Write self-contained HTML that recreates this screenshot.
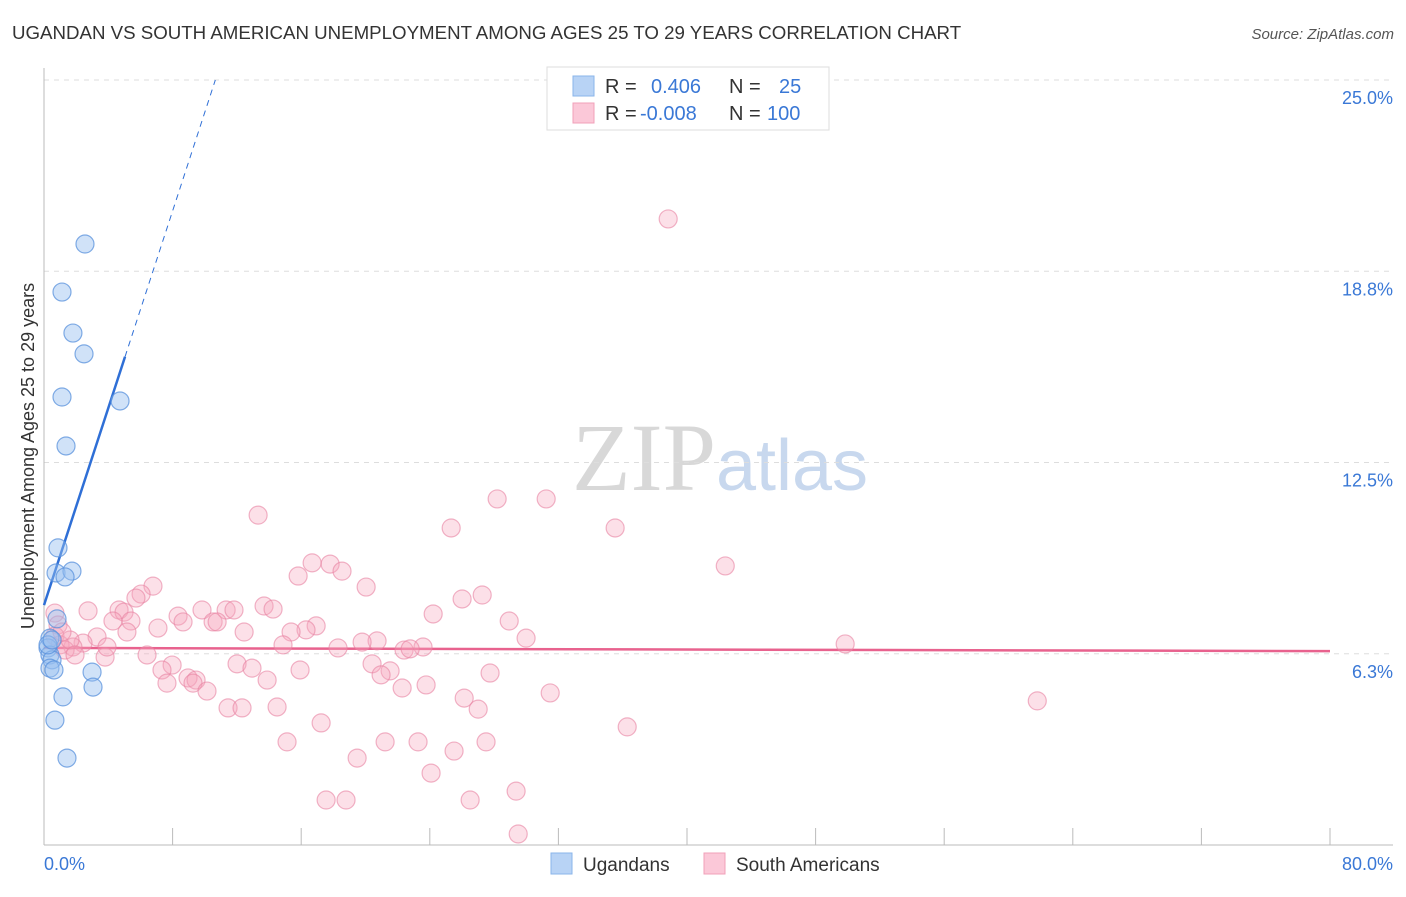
<!DOCTYPE html>
<html><head><meta charset="utf-8"><style>
body{margin:0;background:#fff;font-family:"Liberation Sans",sans-serif}
svg text{font-family:"Liberation Sans",sans-serif}
</style></head><body>
<svg id="chart" width="1406" height="892" viewBox="0 0 1406 892">
<text x="12" y="39" font-size="18.7" fill="#333">UGANDAN VS SOUTH AMERICAN UNEMPLOYMENT AMONG AGES 25 TO 29 YEARS CORRELATION CHART</text>
<text x="1394" y="39" font-size="15" fill="#555" text-anchor="end" font-style="italic">Source: ZipAtlas.com</text>
<text x="720" y="490" font-size="96" text-anchor="middle"><tspan fill="#d8d8d8" font-family="Liberation Serif">ZIP</tspan><tspan fill="#c8d8ee" font-size="72">atlas</tspan></text>
<g id="grid"></g>
<g id="axes"></g>
<g id="trends"></g>
<g id="pts"></g>
<text transform="translate(34,456) rotate(-90)" text-anchor="middle" font-size="18" fill="#333">Unemployment Among Ages 25 to 29 years</text>
<g>
<rect x="547" y="67" width="282" height="63" fill="#fff" stroke="#ddd"/>
<rect x="573" y="76" width="21" height="20" fill="#b8d3f5" stroke="#8ab4ea"/>
<rect x="573" y="103" width="21" height="20" fill="#fbc8d8" stroke="#f0a0b9"/>
<text x="605" y="93" font-size="20" fill="#333">R =</text>
<text x="651" y="93" font-size="20" fill="#3a78d6">0.406</text>
<text x="729" y="93" font-size="20" fill="#333">N =</text>
<text x="779" y="93" font-size="20" fill="#3a78d6">25</text>
<text x="605" y="120" font-size="20" fill="#333">R =</text>
<text x="640" y="120" font-size="20" fill="#3a78d6">-0.008</text>
<text x="729" y="120" font-size="20" fill="#333">N =</text>
<text x="767" y="120" font-size="20" fill="#3a78d6">100</text>
</g>
<g>
<rect x="551" y="853" width="21" height="21" fill="#b8d3f5" stroke="#8ab4ea"/>
<text x="583" y="871" font-size="19" fill="#333">Ugandans</text>
<rect x="704" y="853" width="21" height="21" fill="#fbc8d8" stroke="#f0a0b9"/>
<text x="736" y="871" font-size="19" fill="#333">South Americans</text>
</g>
</svg>
<script>
const yTicks=[25.0,18.8,12.5,6.3];
const yTickVals=[25,18.75,12.5,6.25];
const xTickLabels=["0.0%","80.0%"];
const blueX=[2.55,1.12,1.80,2.49,1.12,4.73,1.37,0.87,0.75,1.74,1.31,0.81,0.37,0.25,0.37,0.50,0.37,0.62,2.99,3.05,1.18,0.68,1.43,0.25,0.50];
const blueY=[19.64,18.07,16.73,16.05,14.64,14.51,13.04,9.71,8.89,8.95,8.76,7.39,6.76,6.44,6.21,6.05,5.78,5.72,5.65,5.16,4.84,4.08,2.84,6.54,6.70];
const pinkX=[38.83,28.19,31.24,13.32,25.33,35.53,42.38,16.68,17.80,18.54,15.81,6.78,20.04,6.04,5.72,4.67,2.74,4.98,13.69,11.33,11.82,9.83,14.25,24.21,26.01,27.26,28.94,8.34,8.65,5.41,10.52,10.77,4.29,7.09,5.16,12.45,16.93,16.30,15.37,29.99,20.72,19.79,49.84,22.40,23.58,22.78,14.87,18.29,3.30,6.41,3.80,2.43,1.80,3.92,7.97,12.01,12.94,15.93,20.41,21.53,7.34,20.97,23.77,22.28,27.75,8.96,9.46,13.88,7.65,9.27,10.14,31.49,26.14,27.01,61.79,11.45,12.32,14.50,17.24,36.28,15.12,21.22,23.27,27.50,25.51,19.48,24.08,29.37,17.55,18.79,26.51,29.50,0.68,0.87,0.68,1.00,1.31,1.62,1.93,1.12];
const pinkY=[20.46,11.31,11.31,10.78,10.36,10.36,9.12,9.22,9.18,8.95,8.79,8.46,8.43,8.20,8.07,7.68,7.65,7.61,7.81,7.68,7.68,7.68,7.71,7.55,8.04,8.17,7.32,7.48,7.29,7.32,7.29,7.29,7.32,7.09,6.96,6.96,7.16,7.03,6.96,6.76,6.67,6.63,6.57,6.37,6.47,6.41,6.54,6.44,6.80,6.21,6.14,6.60,6.47,6.47,5.88,5.92,5.78,5.72,5.92,5.69,5.72,5.56,5.23,5.13,5.62,5.46,5.39,5.39,5.29,5.29,5.03,4.97,4.80,4.44,4.71,4.48,4.48,4.51,3.99,3.86,3.37,3.37,3.37,3.37,3.07,2.84,2.35,1.76,1.47,1.47,1.47,0.36,7.58,7.19,6.83,6.54,6.37,6.70,6.21,6.96];
const blueTrend=[7.84,1.61]; // intercept, slope
const pinkTrend=[6.44,-0.0013];
const NS="http://www.w3.org/2000/svg";
const X=v=>44+v*(1330-44)/80;
const Y=v=>845-v*(845-80)/25;
function mk(tag,attrs,parent){const e=document.createElementNS(NS,tag);for(const k in attrs)e.setAttribute(k,attrs[k]);document.getElementById(parent).appendChild(e);return e;}
yTickVals.forEach((v,i)=>{
 const g=mk('line',{x1:44,x2:1393,y1:Y(v),y2:Y(v),stroke:'#ddd','stroke-dasharray':'5,5'},'grid');
 
 
 const t=mk('text',{x:1393,y:Y(v)+24,'text-anchor':'end','font-size':18,fill:'#3a78d6'},'grid');
 t.textContent=yTicks[i].toFixed(1)+'%';
 
 
});
const ya=mk('line',{x1:44,x2:44,y1:68,y2:845,stroke:'#bbb'},'axes');


const xa=mk('line',{x1:44,x2:1393,y1:845,y2:845,stroke:'#bbb'},'axes');


for(let i=1;i<=10;i++){
 const t=mk('line',{x1:X(i*8),x2:X(i*8),y1:828,y2:845,stroke:'#bbb'},'axes');
 
 
}
const xl0=mk('text',{x:44,y:870,'font-size':18,fill:'#3a78d6'},'axes');xl0.textContent=xTickLabels[0];


const xl1=mk('text',{x:1393,y:870,'font-size':18,fill:'#3a78d6','text-anchor':'end'},'axes');xl1.textContent=xTickLabels[1];


pinkX.forEach((x,i)=>{
 const c=mk('circle',{cx:X(x),cy:Y(pinkY[i]),r:9,fill:'rgba(246,166,190,0.35)',stroke:'rgba(232,130,162,0.6)','stroke-width':1.2},'pts');
 
 
});
blueX.forEach((x,i)=>{
 const c=mk('circle',{cx:X(x),cy:Y(blueY[i]),r:9,fill:'rgba(150,190,240,0.45)',stroke:'rgba(90,145,220,0.75)','stroke-width':1.2},'pts');
 
 
});
const bx1=5.04, bx2=(25-blueTrend[0])/blueTrend[1];
const bl=mk('line',{x1:X(0),y1:Y(blueTrend[0]),x2:X(bx1),y2:Y(blueTrend[0]+blueTrend[1]*bx1),stroke:'#2f6fd6','stroke-width':2.5},'trends');


const bd=mk('line',{x1:X(bx1),y1:Y(blueTrend[0]+blueTrend[1]*bx1),x2:X(bx2),y2:Y(blueTrend[0]+blueTrend[1]*bx2),stroke:'#2f6fd6','stroke-width':1,'stroke-dasharray':'6,5'},'trends');


const pl=mk('line',{x1:X(0),y1:Y(pinkTrend[0]),x2:X(80),y2:Y(pinkTrend[0]+pinkTrend[1]*80),stroke:'#e8628e','stroke-width':2.5},'trends');


</script>
</body></html>
